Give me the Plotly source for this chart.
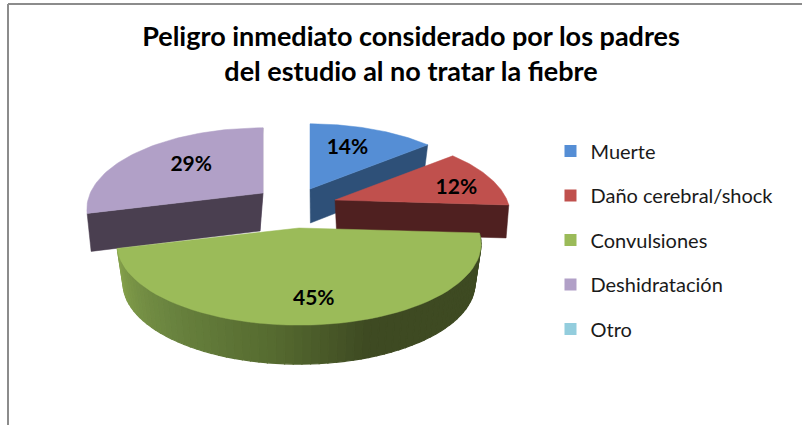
import math
import plotly.graph_objects as go

categories = ["Muerte", "Daño cerebral/shock", "Convulsiones", "Deshidratación", "Otro"]
values = [14, 12, 45, 29, 0]
colors = ["#558ed5", "#c0504d", "#9bbb59", "#b1a0c7", "#93cddd"]
side_colors = ["#2e5078", "#4f2020", "#3e4a22", "#4a3f50", "#93cddd"]

title_lines = ["Peligro inmediato considerado por los padres", "del estudio al no tratar la fiebre"]

# Projection of the exploded 3-D pie into the pixel-sized axes
PERSP = 0.197
RY = 78.0
apex = {0: (310, 189), 1: (335, 200), 2: (299, 228), 3: (263, 193)}
radius = {0: 172, 1: 172, 2: 178.5, 3: 172.7}
depth = {0: 34, 1: 33, 2: 39, 3: 38}
vanish = {0: 320, 1: 400, 2: 300, 3: 188}
shrink = {0: 0.96, 1: 0.975, 2: 0.967, 3: 0.96}
label_frac = {0: 0.68, 1: 0.75, 2: 0.75, 3: 0.52}
label_nudge = {0: (-7, 3), 1: (4, 6), 2: (0, 3), 3: (-5, -4)}
FONT = "Lato"

total = sum(values)
spans, acc = {}, 0.0
for i, v in enumerate(values):
    spans[i] = (acc / total * 360, (acc + v) / total * 360)
    acc += v


def top(i, deg, frac=1.0):
    a = math.radians(deg)
    u, w = math.sin(a) * frac, -math.cos(a) * frac
    s = 1 / (1 - PERSP * w)
    return apex[i][0] + radius[i] * u * s, apex[i][1] + RY * w * s


def bottom(i, x, y):
    return vanish[i] + (x - vanish[i]) * shrink[i], y + depth[i]


def arc(i, a0, a1, n=60):
    return [top(i, a0 + (a1 - a0) * k / n) for k in range(n + 1)]


fig = go.Figure()


def poly(pts, color, lw=0.5):
    xs = [p[0] for p in pts] + [pts[0][0]]
    ys = [p[1] for p in pts] + [pts[0][1]]
    fig.add_trace(go.Scatter(x=xs, y=ys, mode="lines", fill="toself", fillcolor=color,
                             line=dict(color=color, width=lw), hoverinfo="skip", showlegend=False))


def cut_face(i, deg, color):
    p0 = apex[i]
    p1 = top(i, deg)
    poly([p0, p1, bottom(i, *p1), bottom(i, *p0)], color)


def lerp_hex(stops, t):
    for (t0, c0), (t1, c1) in zip(stops, stops[1:]):
        if t <= t1:
            f = (t - t0) / (t1 - t0)
            return "rgb(%d,%d,%d)" % tuple(round(a + (b - a) * f) for a, b in zip(c0, c1))
    return "rgb(%d,%d,%d)" % stops[-1][1]


# purple (back left)
cut_face(3, 360, "#8d8299")
cut_face(3, spans[3][0], side_colors[3])
poly([apex[3]] + arc(3, *spans[3]), colors[3])
# blue (back)
cut_face(0, spans[0][1], side_colors[0])
poly([apex[0]] + arc(0, *spans[0]), colors[0])
# red (right)
cut_face(1, spans[1][1], side_colors[1])
poly([apex[1]] + arc(1, *spans[1]), colors[1])
# green (front): shaded outer wall then top
green_stops = [(0.0, (62, 74, 34)), (0.42, (62, 74, 34)), (0.58, (86, 107, 48)),
               (0.78, (107, 133, 64)), (1.0, (134, 162, 76))]
g0, g1 = spans[2]
N = 70
for k in range(N):
    a0 = g0 + (g1 - g0) * k / N
    a1 = g0 + (g1 - g0) * (k + 1) / N
    p0, p1 = top(2, a0), top(2, a1)
    poly([p0, p1, bottom(2, *p1), bottom(2, *p0)], lerp_hex(green_stops, (k + 0.5) / N), lw=1.2)
poly([apex[2]] + arc(2, g0, g1), colors[2])

# percentage labels
for i in range(4):
    mid = sum(spans[i]) / 2
    x, y = top(i, mid, label_frac[i])
    fig.add_trace(go.Scatter(x=[x + label_nudge[i][0]], y=[y + label_nudge[i][1]], mode="text",
                             text=[f"{values[i]}%"], textposition="middle center",
                             textfont=dict(family=FONT, size=21, color="#000000", weight="bold"),
                             hoverinfo="skip", showlegend=False))

# legend
for name, color in zip(categories, colors):
    fig.add_trace(go.Scatter(x=[None], y=[None], mode="markers", name=name, legendgroup=name,
                             marker=dict(symbol="square", size=12, color=color)))

fig.update_layout(
    width=802, height=425, margin=dict(l=0, r=0, t=0, b=0),
    paper_bgcolor="#ffffff", plot_bgcolor="#ffffff",
    xaxis=dict(range=[0, 802], visible=False, fixedrange=True),
    yaxis=dict(range=[425, 0], visible=False, fixedrange=True),
    legend=dict(x=0.6864, y=0.6905, xanchor="left", yanchor="top", tracegroupgap=15.5,
                font=dict(family=FONT, size=20, color="#1a1a1a"), itemsizing="constant",
                bgcolor="rgba(0,0,0,0)"),
    title=dict(text="<br>".join("<b>" + t + "</b>" for t in title_lines), x=0.5125, xanchor="center",
               y=0.892, yanchor="middle", font=dict(family=FONT, size=27, color="#000000")),
    shapes=[
        dict(type="line", xref="paper", yref="paper", x0=8 / 802, x1=8 / 802, y0=0, y1=1 - 4 / 425,
             line=dict(color="#8c8c8c", width=2)),
        dict(type="line", xref="paper", yref="paper", x0=8 / 802, x1=1, y0=1 - 4 / 425, y1=1 - 4 / 425,
             line=dict(color="#8c8c8c", width=2)),
    ],
)

fig.write_html("out.html", config={"displayModeBar": False}, post_script="document.body.style.margin='0';")
